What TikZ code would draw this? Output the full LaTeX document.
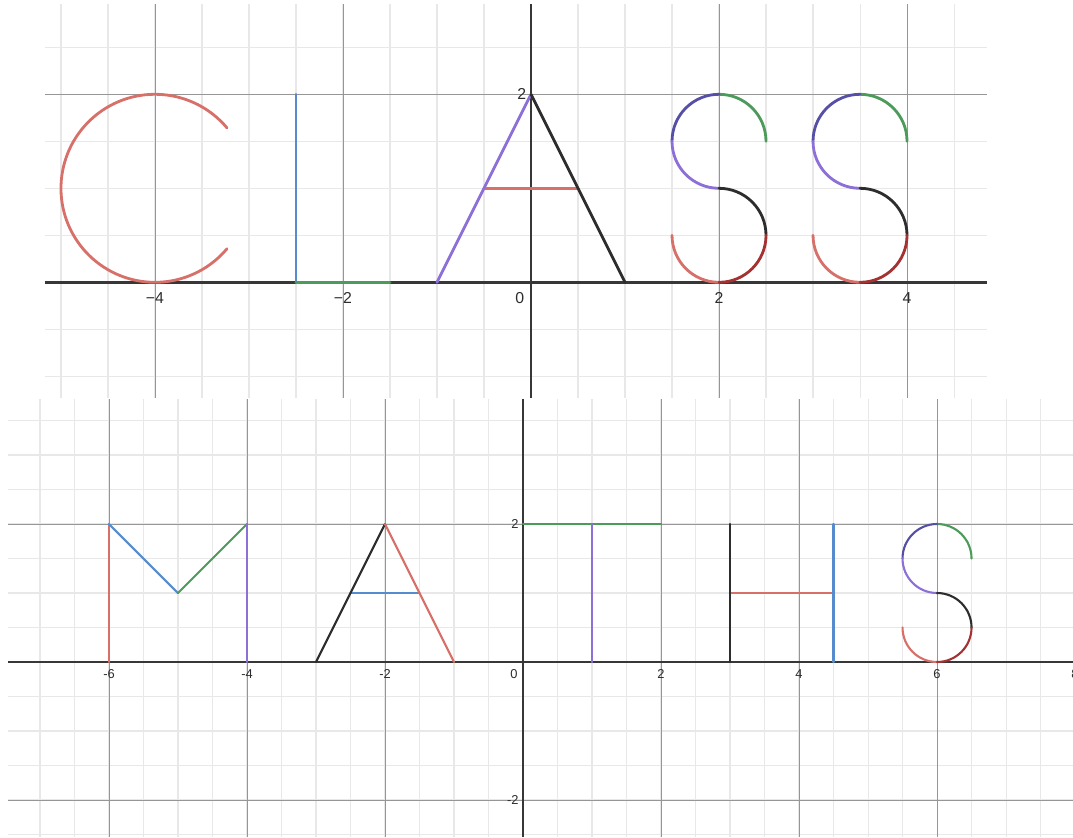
\documentclass[tikz,border=0pt]{standalone}
\usepackage{fontspec}
\setmainfont{Liberation Sans}
\definecolor{gridminor}{RGB}{232,232,232}
\definecolor{gridmajor}{RGB}{150,150,150}
\definecolor{axiscol}{RGB}{55,55,55}
\definecolor{labcol}{RGB}{45,45,45}
\definecolor{cred}{RGB}{216,112,106}
\definecolor{cdred}{RGB}{165,50,50}
\definecolor{cblue}{RGB}{86,140,205}
\definecolor{cgreen}{RGB}{76,155,90}
\definecolor{cpurple}{RGB}{140,112,215}
\definecolor{cnavy}{RGB}{85,80,165}
\definecolor{cblack}{RGB}{45,45,45}
\tikzset{
  minorgrid/.style={draw=gridminor, line width=0.9pt},
  majorgrid/.style={draw=gridmajor, line width=0.8pt},
  axisline/.style={draw=axiscol, line width=#1},
  curve/.style={line width=#1, line cap=round},
  toplab/.style={text=labcol, font=\fontsize{13.5}{14}\selectfont, inner sep=0pt},
  botlab/.style={text=labcol, font=\fontsize{11}{12}\selectfont, inner sep=0pt},
}
\newcommand{\letterS}[2]{%
  \draw[curve=#2,cgreen] (#1,2) arc[start angle=90,end angle=0,radius=0.5];
  \draw[curve=#2,cnavy] (#1,2) arc[start angle=90,end angle=180,radius=0.5];
  \draw[curve=#2,cpurple] (#1-0.5,1.5) arc[start angle=180,end angle=270,radius=0.5];
  \draw[curve=#2,cblack] (#1,1) arc[start angle=90,end angle=0,radius=0.5];
  \draw[curve=#2,cred] (#1,0) arc[start angle=270,end angle=180,radius=0.5];
  \draw[curve=#2,cdred] (#1+0.5,0.5) arc[start angle=0,end angle=-90,radius=0.5];
}
\begin{document}
\begin{tikzpicture}[x=0.03cm,y=-0.03cm]
\useasboundingbox[fill=white] (0,0) rectangle (1073,837);
% ---------------- top panel: CLASS ----------------
\begin{scope}[shift={(531,282.3)},x=2.82cm,y=2.82cm]
  \begin{scope}
    \clip (-5.17,-1.23) rectangle (4.85,2.96);
    \foreach \x in {-5,-4.5,...,4.6} \draw[minorgrid] (\x,-1.23) -- (\x,2.96);
    \foreach \y in {-1,-0.5,...,2.6} \draw[minorgrid] (-5.17,\y) -- (4.85,\y);
    \foreach \x in {-4,-2,2,4} \draw[majorgrid] (\x,-1.23) -- (\x,2.96);
    \draw[majorgrid] (-5.17,2) -- (4.85,2);
    \draw[axisline=2.2pt] (-5.17,0) -- (4.85,0);
    \draw[axisline=2.2pt] (0,-1.23) -- (0,2.96);
  \end{scope}
  % C
  \draw[curve=2.4pt,cred] (-4,1) ++(40:1) arc[start angle=40,end angle=320,radius=1];
  % L
  \draw[curve=2.4pt,cblue] (-2.5,0) -- (-2.5,2);
  \draw[curve=2.4pt,cgreen] (-2.5,0) -- (-1.5,0);
  % A
  \draw[curve=2.4pt,cred] (-0.5,1) -- (0.5,1);
  \draw[curve=2.4pt,cpurple] (-1,0) -- (0,2);
  \draw[curve=2.4pt,cblack] (0,2) -- (1,0);
  % S S
  \letterS{2}{2.4pt}
  \letterS{3.5}{2.4pt}
  % labels
  \node[toplab] (tm4) at (-4,-0.165) {−4};
  \node[toplab] (tm2) at (-2,-0.165) {−2};
  \node[toplab] (t0) at (-0.12,-0.165) {0};
  \node[toplab] (t2) at (2,-0.165) {2};
  \node[toplab] (t4) at (4,-0.165) {4};
  \node[toplab,anchor=east] (ty2) at (-0.05,2) {2};
\end{scope}
% ---------------- bottom panel: MATHS ----------------
\begin{scope}[shift={(523,662)},x=2.07cm,y=2.07cm]
  \begin{scope}
    \clip (-7.46,-2.54) rectangle (7.97,3.81);
    \foreach \x in {-7,-6.5,...,7.6} \draw[minorgrid] (\x,-2.54) -- (\x,3.81);
    \foreach \y in {-2.5,-2,...,3.6} \draw[minorgrid] (-7.46,\y) -- (7.97,\y);
    \foreach \x in {-6,-4,-2,2,4,6} \draw[majorgrid] (\x,-2.54) -- (\x,3.81);
    \foreach \y in {-2,2} \draw[majorgrid] (-7.46,\y) -- (7.97,\y);
    \draw[axisline=1.7pt] (-7.46,0) -- (7.97,0);
    \draw[axisline=1.7pt] (0,-2.54) -- (0,3.81);
  \end{scope}
  % M
  \draw[curve=1.8pt,cred] (-6,0) -- (-6,2);
  \draw[curve=1.8pt,cblue] (-6,2) -- (-5,1);
  \draw[curve=1.8pt,cgreen] (-5,1) -- (-4,2);
  \draw[curve=1.8pt,cpurple] (-4,0) -- (-4,2);
  % A
  \draw[curve=1.8pt,cblue] (-2.5,1) -- (-1.5,1);
  \draw[curve=1.8pt,cblack] (-3,0) -- (-2,2);
  \draw[curve=1.8pt,cred] (-2,2) -- (-1,0);
  % T
  \draw[curve=1.8pt,cgreen] (0,2) -- (2,2);
  \draw[curve=1.8pt,cpurple] (1,0) -- (1,2);
  % H
  \draw[curve=1.8pt,cred] (3,1) -- (4.5,1);
  \draw[curve=1.8pt,cblack] (3,0) -- (3,2);
  \draw[curve=1.8pt,cblue] (4.5,0) -- (4.5,2);
  % S
  \letterS{6}{1.8pt}
  % labels
  \node[botlab] (bm6) at (-6,-0.17) {-6};
  \node[botlab] (bm4) at (-4,-0.17) {-4};
  \node[botlab] (bm2) at (-2,-0.17) {-2};
  \node[botlab] (b0) at (-0.13,-0.17) {0};
  \node[botlab] (b2) at (2,-0.17) {2};
  \node[botlab] (b4) at (4,-0.17) {4};
  \node[botlab] (b6) at (6,-0.17) {6};
  \node[botlab] (b8) at (8,-0.17) {8};
  \node[botlab,anchor=east] (by2) at (-0.06,2) {2};
  \node[botlab,anchor=east] (bym2) at (-0.06,-2) {-2};
\end{scope}
\end{tikzpicture}
\end{document}
